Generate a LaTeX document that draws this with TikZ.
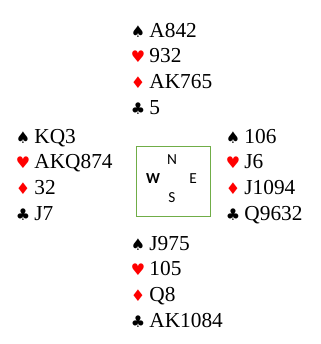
\documentclass[tikz,border=0pt]{standalone}
\usepackage{fontspec}
\setmainfont{Liberation Serif}
\newfontfamily\suitfont{DejaVu Sans}
\newfontfamily\compassfont{Carlito}
\usetikzlibrary{positioning}

\definecolor{tablegreen}{RGB}{112,173,71}

% suit symbol, padded so the holding starts at a fixed place
\newcommand{\suit}[2]{\makebox[14pt][l]{\textcolor{#1}{\fontsize{12}{12}\suitfont\char"#2}}}
\newcommand{\spd}{\suit{black}{2660}}
\newcommand{\hrt}{\suit{red}{2665}}
\newcommand{\dmd}{\suit{red}{2666}}
\newcommand{\clb}{\suit{black}{2663}}

% one hand: name, x, y of first baseline, then the four holdings
\newcommand{\hand}[7]{%
  \node[holding] (#1s) at (#2,#3) {\spd#4};
  \node[holding] (#1h) at (#2,{#3+25.7}) {\hrt#5};
  \node[holding] (#1d) at (#2,{#3+51.4}) {\dmd#6};
  \node[holding] (#1c) at (#2,{#3+77.1}) {\clb#7};
}

\tikzset{
  holding/.style={anchor=base west, inner sep=0pt, font=\fontsize{16}{19}\selectfont},
  seat/.style={inner sep=0pt, font=\fontsize{11.5}{13}\compassfont},
  tablebox/.style={draw=tablegreen, line width=0.75pt, minimum width=55.5pt, minimum height=52.5pt, inner sep=0pt}
}

\begin{document}
\begin{tikzpicture}[x=0.75pt, y=-0.75pt]
  \useasboundingbox (0,0) rectangle (321,344);

  \hand{north}{130.5}{37}{A842}{932}{AK765}{5}
  \hand{west}{15.5}{143}{KQ3}{AKQ874}{32}{J7}
  \hand{east}{225.5}{143}{106}{J6}{J1094}{Q9632}
  \hand{south}{130.5}{250}{J975}{105}{Q8}{AK1084}

  \node[tablebox] (tbl) at (174,181) {};
  \node[seat] (n) at (172,160) {N};
  \node[seat] (w) at (153,179) {\bfseries W};
  \node[seat] (e) at (193,179) {E};
  \node[seat] (s) at (172,198) {S};
\end{tikzpicture}
\end{document}
